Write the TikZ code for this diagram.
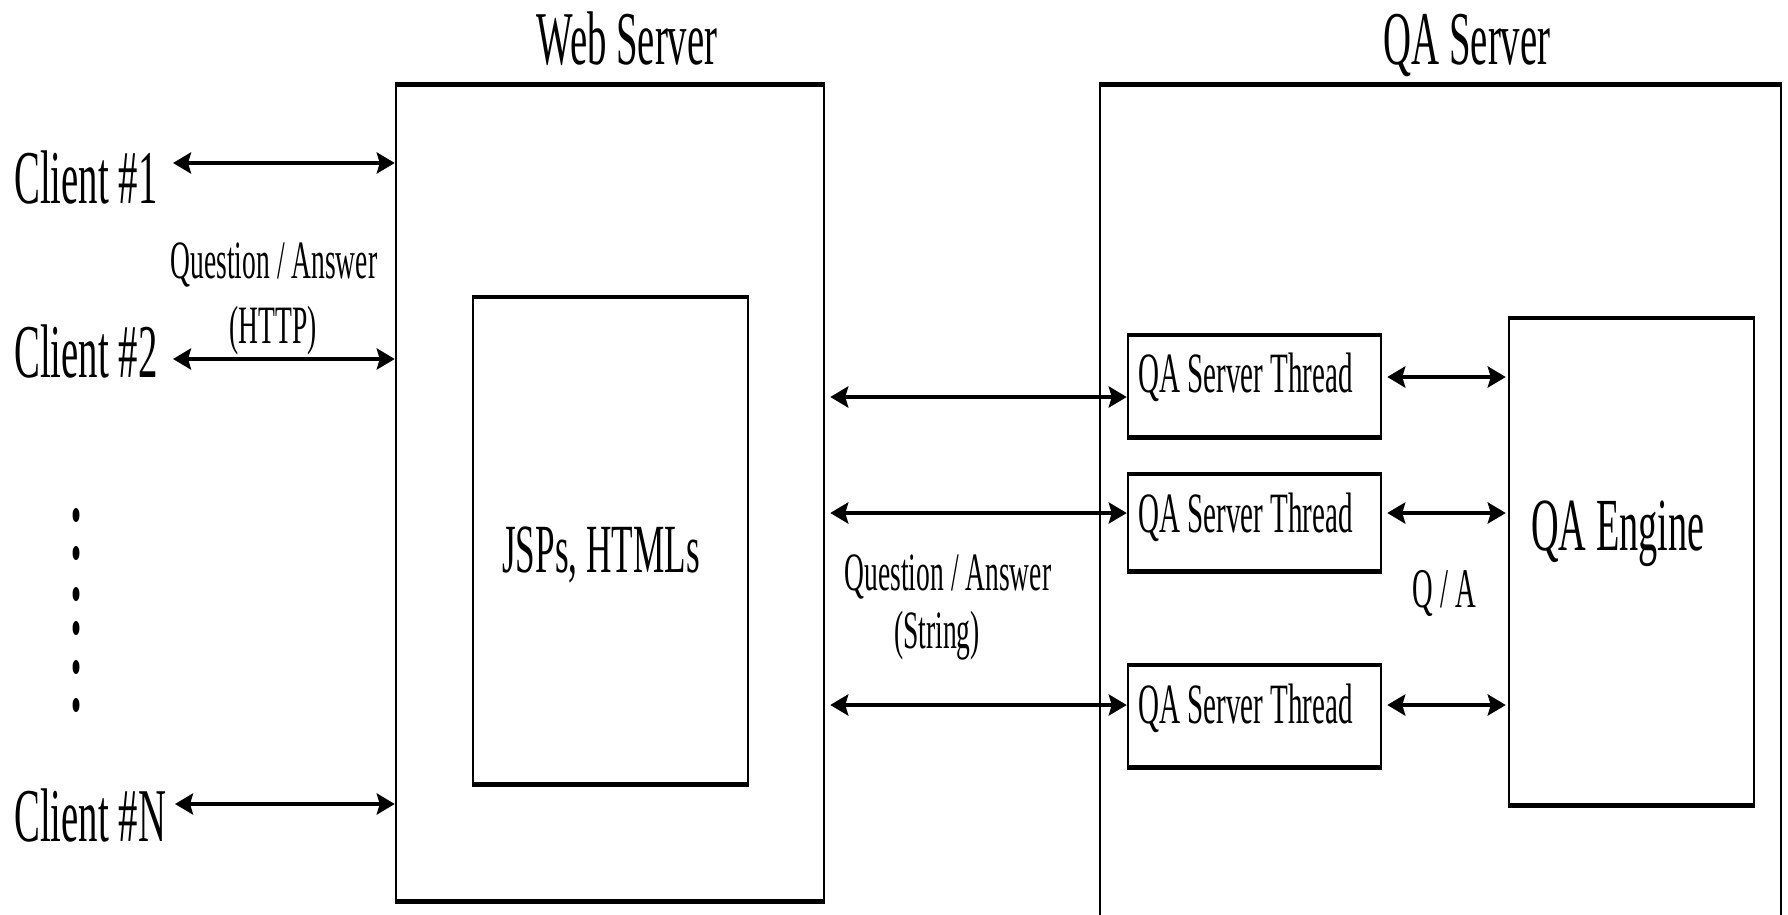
\documentclass[tikz,border=0pt]{standalone}
\usepackage{fontspec}
\setmainfont[FakeStretch=0.51]{Liberation Serif}
\usetikzlibrary{arrows.meta}
\newcommand\setfs[1]{\fontsize{#1}{#1}\selectfont}
\tikzset{
  box/.style={draw, line width=2.5pt, inner sep=0pt},
  hedge/.style={line width=4.5pt},
  lbl/.style={inner sep=0pt, anchor=base},
  biarrow/.style={line width=4pt,
    {Stealth[length=18pt,width=21pt,inset=3pt]}-{Stealth[length=18pt,width=21pt,inset=3pt]}},
}
\begin{document}
\begin{tikzpicture}[x=1pt, y=-1pt]
\clip (0,0) rectangle (1788,915);
\fill[white] (0,0) rectangle (1788,915);

% outer servers
\node[box, minimum width=428pt, minimum height=814pt] (web) at (610,493) {};
\node[box, minimum width=681pt, minimum height=844pt] (qa) at (1440.5,508) {};
\draw[hedge] (web.north west) -- (web.north east);
\draw[hedge] (web.south west) -- (web.south east);
\draw[hedge] (qa.north west) -- (qa.north east);

% inner page box
\node[box, minimum width=275pt, minimum height=485pt] (jsp) at (610.5,540.5) {};
\draw[hedge] (jsp.north west) -- (jsp.north east);
\draw[hedge] (jsp.south west) -- (jsp.south east);

% server threads and engine
\node[box, minimum width=253pt, minimum height=100pt] (t1) at (1254.5,386) {};
\node[box, minimum width=253pt, minimum height=95pt]  (t2) at (1254.5,522.5) {};
\node[box, minimum width=253pt, minimum height=100pt] (t3) at (1254.5,716) {};
\node[box, minimum width=245pt, minimum height=485pt] (eng) at (1631.5,561.5) {};
\foreach \b in {t1,t2,t3,eng}{
  \draw[hedge] (\b.north west) -- (\b.north east);
  \draw[hedge] (\b.south west) -- (\b.south east);
}

% titles
\node[lbl] (webt) at (627,65) {\setfs{76}Web Server};
\node[lbl] (qat) at (1467,65) {\setfs{76}QA Server};

% clients
\node[lbl, anchor=base west] (c1) at (14,203) {\setfs{76}Client \#1};
\node[lbl, anchor=base west] (c2) at (14,377) {\setfs{76}Client \#2};
\node[lbl, anchor=base west] (cn) at (14,841) {\setfs{76}Client \#N};
\foreach \y in {515,553,594,628,667,705}
  \fill (76,\y) ellipse [x radius=3.5pt, y radius=7pt];

% box texts
\node[lbl] (jspt) at (601,572) {\setfs{69}JSPs, HTMLs};
\node[lbl, anchor=base west] (engt) at (1531,550) {\setfs{75}QA Engine};
\node[lbl, anchor=base west] (t1t) at (1138,392) {\setfs{57}QA Server Thread};
\node[lbl, anchor=base west] (t2t) at (1138,532) {\setfs{57}QA Server Thread};
\node[lbl, anchor=base west] (t3t) at (1138,723) {\setfs{57}QA Server Thread};

% connector labels
\node[lbl] (qh1) at (274,278) {\setfs{54}Question / Answer};
\node[lbl] (qh2) at (273,343) {\setfs{54}(HTTP)};
\node[lbl] (qs1) at (948,590) {\setfs{54}Question / Answer};
\node[lbl] (qs2) at (937,648) {\setfs{54}(String)};
\node[lbl] (qa2) at (1444,607) {\setfs{56}Q / A};

% client connections
\coordinate (a1) at (173,163);
\coordinate (a2) at (173,359);
\coordinate (an) at (175,804);
\draw[biarrow] (a1) -- (a1 -| web.west);
\draw[biarrow] (a2) -- (a2 -| web.west);
\draw[biarrow] (an) -- (an -| web.west);

% web server to threads
\draw[biarrow, shorten <=5pt] (web.east |- 0,397) -- (t1.west |- 0,397);
\draw[biarrow, shorten <=5pt] (web.east |- 0,513) -- (t2.west |- 0,513);
\draw[biarrow, shorten <=5pt] (web.east |- 0,705) -- (t3.west |- 0,705);

% threads to engine
\draw[biarrow, shorten <=5pt, shorten >=2pt] (t1.east |- 0,377) -- (eng.west |- 0,377);
\draw[biarrow, shorten <=5pt, shorten >=2pt] (t2.east |- 0,513) -- (eng.west |- 0,513);
\draw[biarrow, shorten <=5pt, shorten >=2pt] (t3.east |- 0,705) -- (eng.west |- 0,705);
\end{tikzpicture}
\end{document}
